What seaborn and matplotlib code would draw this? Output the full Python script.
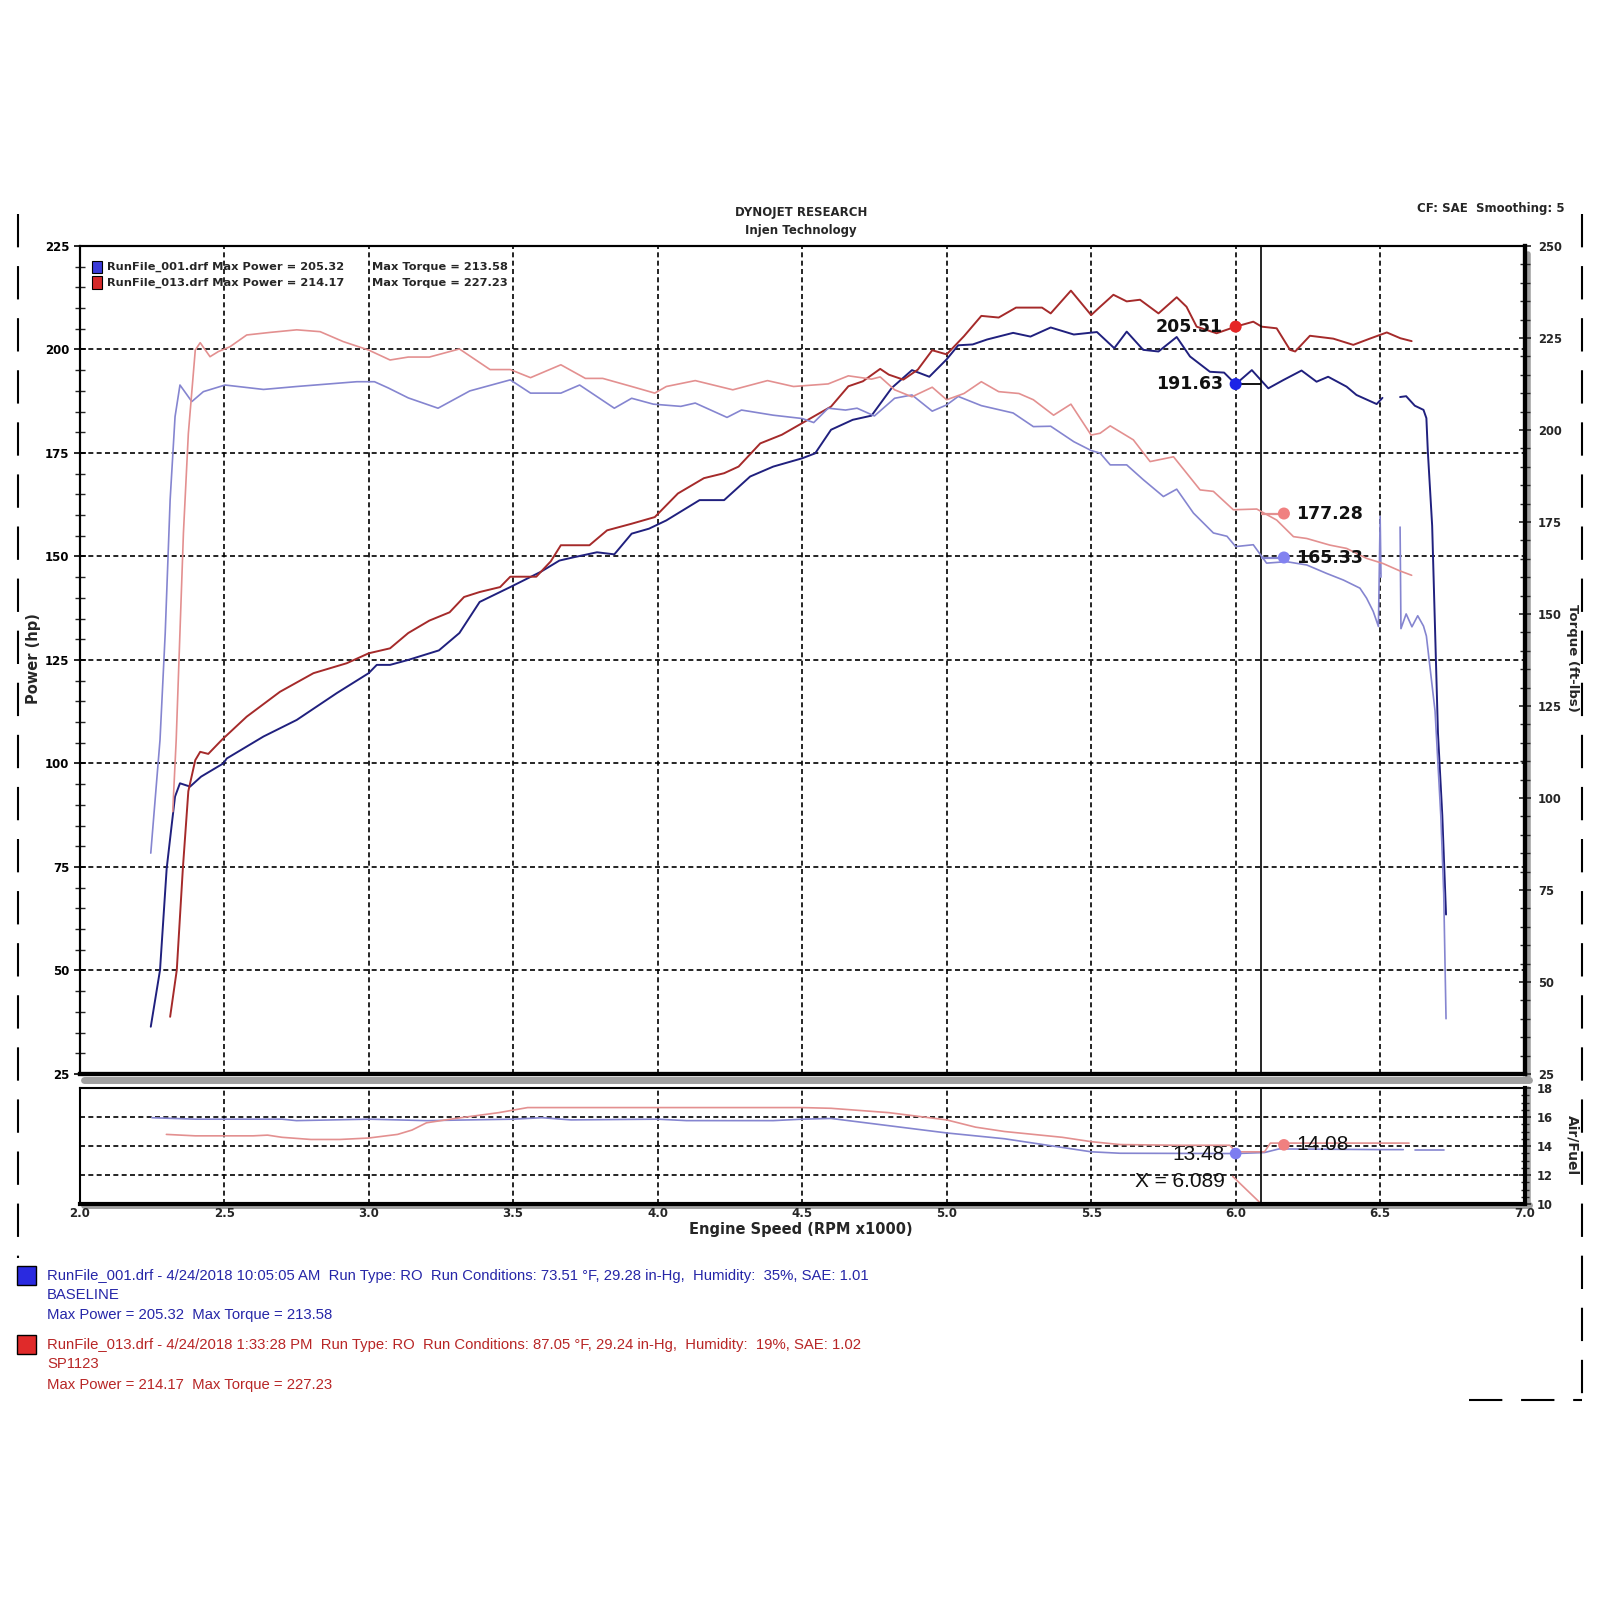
import numpy as np
import pandas as pd
import matplotlib
matplotlib.use("Agg")
import matplotlib.pyplot as plt
from matplotlib import font_manager
from matplotlib.patches import Rectangle
from matplotlib.lines import Line2D
from matplotlib.ticker import MultipleLocator, FormatStrFormatter
import seaborn as sns

nan = np.nan

# --- values (engine speed in RPM x1000) ---
# baseline run (RunFile_001): power, hp   (nan = break in the trace)
base_hp_rpm = [2.246, 2.278, 2.301, 2.319, 2.33, 2.347, 2.382, 2.42, 2.497, 2.509,
               2.636, 2.751, 2.89, 3.0, 3.028, 3.074, 3.137, 3.243, 3.314, 3.384,
               3.49, 3.596, 3.66, 3.71, 3.79, 3.85, 3.91, 3.97, 4.03, 4.145,
               4.23, 4.32, 4.40, 4.5, 4.545, 4.60, 4.675, 4.74, 4.81, 4.88,
               4.94, 5.0, 5.04, 5.09, 5.14, 5.23, 5.29, 5.36, 5.44, 5.52,
               5.58, 5.623, 5.68, 5.733, 5.796, 5.842, 5.911, 5.96, 6.0, 6.056,
               6.113, 6.165, 6.228, 6.28, 6.32, 6.384, 6.418, 6.488, 6.508, nan,
               6.569, 6.59, 6.62, 6.65, 6.66, 6.665, 6.68, 6.69, 6.70, 6.715, 6.728]
base_hp = [36.4, 50.1, 74.6, 85.5, 92.0, 95.2, 94.4, 96.8, 100.0, 101.2,
           106.5, 110.5, 117.0, 121.8, 123.8, 123.8, 125.0, 127.3, 131.5, 139.0,
           142.6, 146.3, 149.0, 149.8, 151.0, 150.5, 155.5, 156.7, 158.7, 163.6,
           163.6, 169.3, 171.7, 173.7, 174.9, 180.6, 183.0, 184.0, 190.7, 195.0,
           193.4, 197.6, 201.0, 201.2, 202.4, 204.0, 203.1, 205.3, 203.6, 204.2,
           200.3, 204.3, 199.9, 199.5, 203.0, 198.3, 194.6, 194.4, 191.6, 195.0,
           190.6, 192.6, 194.9, 192.2, 193.4, 191.0, 189.0, 186.8, 188.3, nan,
           188.5, 188.7, 186.4, 185.4, 183.4, 175.4, 157.4, 132.4, 107.4, 87.5, 63.5]

# baseline run: torque, ft-lbs
base_tq_rpm = [2.246, 2.278, 2.296, 2.313, 2.33, 2.347, 2.388, 2.428, 2.503, 2.636,
               2.751, 2.959, 3.02, 3.068, 3.137, 3.24, 3.35, 3.49, 3.56, 3.665,
               3.73, 3.85, 3.91, 3.985, 4.08, 4.13, 4.24, 4.29, 4.40, 4.5,
               4.54, 4.59, 4.65, 4.69, 4.75, 4.82, 4.88, 4.95, 5.0, 5.04,
               5.12, 5.23, 5.30, 5.36, 5.44, 5.5, 5.531, 5.566, 5.623, 5.68,
               5.75, 5.796, 5.854, 5.923, 5.97, 6.0, 6.061, 6.107, 6.176, 6.246,
               6.315, 6.373, 6.43, 6.453, 6.476, 6.494, 6.50, 6.503, nan,
               6.569, 6.572, 6.59, 6.61, 6.63, 6.65, 6.66, 6.69, 6.71, 6.72, 6.728]
base_tq = [85.0, 115.8, 144.8, 181.0, 203.6, 212.2, 207.7, 210.4, 212.2, 211.0,
           211.8, 213.1, 213.1, 211.4, 208.7, 205.9, 210.6, 213.6, 210.0, 210.0,
           212.2, 205.9, 208.6, 207.0, 206.4, 207.3, 203.4, 205.4, 204.0, 203.1,
           202.0, 205.9, 205.4, 205.9, 203.8, 208.6, 209.5, 205.1, 206.8, 209.1,
           206.6, 204.6, 200.9, 201.0, 196.8, 194.4, 193.7, 190.5, 190.5, 186.5,
           181.9, 183.9, 177.4, 172.0, 171.1, 168.3, 168.8, 163.8, 164.2, 163.3,
           161.0, 159.2, 157.0, 154.3, 150.7, 146.6, 176.5, 160.0, nan,
           173.6, 146.0, 150.0, 146.5, 149.5, 146.7, 144.0, 123.6, 95.0, 74.0, 40.0]

# SP1123 run (RunFile_013): power, hp
mod_hp_rpm = [2.313, 2.336, 2.357, 2.376, 2.40, 2.417, 2.445, 2.492, 2.578, 2.693,
              2.809, 2.924, 3.0, 3.074, 3.137, 3.21, 3.28, 3.33, 3.384, 3.455,
              3.49, 3.58, 3.63, 3.665, 3.764, 3.825, 3.91, 3.99, 4.07, 4.16,
              4.23, 4.28, 4.355, 4.43, 4.5, 4.60, 4.66, 4.71, 4.77, 4.80,
              4.85, 4.90, 4.95, 5.0, 5.06, 5.12, 5.18, 5.24, 5.33, 5.36,
              5.43, 5.5, 5.531, 5.577, 5.623, 5.669, 5.733, 5.796, 5.83, 5.865,
              5.934, 6.0, 6.061, 6.09, 6.142, 6.188, 6.206, 6.257, 6.338, 6.407,
              6.464, 6.523, 6.57, 6.609]
mod_hp = [38.8, 50.1, 74.6, 93.3, 100.8, 102.8, 102.3, 105.7, 111.3, 117.3,
          121.8, 124.2, 126.6, 127.8, 131.5, 134.5, 136.5, 140.2, 141.4, 142.6,
          145.1, 145.1, 148.8, 152.7, 152.7, 156.3, 157.9, 159.5, 165.2, 168.9,
          170.1, 171.7, 177.3, 179.4, 182.2, 186.2, 191.1, 192.3, 195.3, 193.9,
          192.7, 195.1, 199.8, 198.8, 203.2, 208.1, 207.7, 210.1, 210.1, 208.7,
          214.2, 208.3, 210.3, 213.2, 211.6, 212.0, 208.7, 212.6, 210.3, 205.5,
          203.9, 205.5, 206.7, 205.5, 205.1, 199.9, 199.5, 203.3, 202.6, 201.1,
          202.6, 204.1, 202.7, 202.0]

# SP1123 run: torque, ft-lbs
mod_tq_rpm = [2.322, 2.334, 2.359, 2.376, 2.40, 2.417, 2.451, 2.48, 2.52, 2.578,
              2.659, 2.751, 2.832, 2.912, 3.0, 3.074, 3.137, 3.21, 3.314, 3.42,
              3.49, 3.56, 3.665, 3.75, 3.81, 3.91, 3.99, 4.03, 4.13, 4.26,
              4.38, 4.47, 4.59, 4.66, 4.74, 4.77, 4.82, 4.88, 4.95, 5.0,
              5.06, 5.12, 5.18, 5.25, 5.30, 5.37, 5.43, 5.5, 5.531, 5.566,
              5.646, 5.704, 5.785, 5.877, 5.923, 5.992, 6.073, 6.142, 6.2, 6.246,
              6.326, 6.384, 6.453, 6.51, 6.568, 6.609]
mod_tq = [96.3, 115.8, 172.0, 199.0, 221.7, 223.7, 219.9, 221.3, 222.6, 225.8,
          226.5, 227.2, 226.7, 224.0, 221.7, 219.0, 219.8, 219.8, 222.0, 216.4,
          216.4, 214.2, 217.7, 214.0, 214.0, 211.8, 210.0, 211.8, 213.4, 210.9,
          213.4, 211.8, 212.5, 214.7, 213.8, 214.4, 210.9, 209.0, 211.6, 208.2,
          209.9, 213.1, 210.4, 209.9, 208.2, 204.0, 207.0, 198.6, 199.1, 201.1,
          197.3, 191.4, 192.7, 183.7, 183.3, 178.3, 178.5, 175.5, 171.0, 170.5,
          168.7, 167.8, 165.1, 163.7, 161.7, 160.5]

# air/fuel ratio
base_af_rpm = [2.25, 2.4, 2.7, 2.75, 3.0, 3.2, 3.5, 3.6, 3.7, 4.0, 4.1, 4.4, 4.5, 4.6,
               4.8, 5.0, 5.2, 5.4, 5.5, 5.6, 6.0, 6.1, 6.15, 6.5, 6.58, nan, 6.62, 6.72]
base_af = [15.95, 15.85, 15.85, 15.75, 15.85, 15.75, 15.85, 15.95, 15.8, 15.85, 15.75, 15.75, 15.85, 15.9,
           15.4, 14.9, 14.5, 13.9, 13.6, 13.5, 13.48, 13.55, 13.8, 13.75, 13.75, nan, 13.75, 13.75]
mod_af_rpm = [2.3, 2.4, 2.6, 2.65, 2.7, 2.8, 2.9, 3.0, 3.1, 3.15, 3.2, 3.3, 3.45, 3.55,
              4.5, 4.6, 4.8, 4.9, 5.0, 5.1, 5.2, 5.3, 5.4, 5.5, 5.6, 5.8, 5.98, 6.0,
              6.1, 6.12, 6.6]
mod_af = [14.8, 14.7, 14.7, 14.75, 14.6, 14.45, 14.45, 14.55, 14.8, 15.1, 15.6, 15.9, 16.3, 16.65,
          16.65, 16.6, 16.3, 16.05, 15.8, 15.3, 15.0, 14.8, 14.6, 14.3, 14.1, 14.05, 14.05, 13.6,
          13.6, 14.2, 14.2]

# cursor read-outs
cursor_rpm = 6.089
hp_read_rpm = 6.0
hp_read = [205.51, 191.63]          # SP1123, baseline
tq_read_rpm = 6.167
tq_read = [177.28, 165.33]          # SP1123, baseline
af_read = [(6.0, 13.48), (6.167, 14.08)]   # baseline, SP1123

run_legend = [("RunFile_001.drf Max Power = 205.32", "Max Torque = 213.58"),
              ("RunFile_013.drf Max Power = 214.17", "Max Torque = 227.23")]
run_notes = [
    ["RunFile_001.drf - 4/24/2018 10:05:05 AM  Run Type: RO  Run Conditions: 73.51 °F, 29.28 in-Hg,  Humidity:  35%, SAE: 1.01",
     "BASELINE", "Max Power = 205.32  Max Torque = 213.58"],
    ["RunFile_013.drf - 4/24/2018 1:33:28 PM  Run Type: RO  Run Conditions: 87.05 °F, 29.24 in-Hg,  Humidity:  19%, SAE: 1.02",
     "SP1123", "Max Power = 214.17  Max Torque = 227.23"],
]

sns.set_theme(style="white")
plt.rcParams["font.family"] = ["DejaVu Sans"]
plt.rcParams["font.weight"] = "bold"

NAVY = "#20207e"
LAV = "#8585d0"
DRED = "#a52a2a"
SALMON = "#e39090"
GRID = dict(color="black", linestyle=(0, (3, 2)), linewidth=1.2)

# narrow face for the run notes if there is one, else plain Liberation Sans a bit smaller
try:
    font_manager.findfont("Liberation Sans Narrow", fallback_to_default=False)
    NARROW, NOTE_SIZE = ["Liberation Sans Narrow", "DejaVu Sans"], 12
except ValueError:
    NARROW, NOTE_SIZE = ["Liberation Sans", "DejaVu Sans"], 10.7


def trace(rpm, vals):
    df = pd.DataFrame({"rpm": rpm, "val": vals})
    df["seg"] = df["val"].isna().cumsum()
    return df.dropna()


def draw(ax, rpm, vals, color, lw):
    sns.lineplot(data=trace(rpm, vals), x="rpm", y="val", units="seg", estimator=None,
                 sort=False, color=color, linewidth=lw, ax=ax, legend=False)


def shadow(ax):
    # grey drop shadow under bottom / right edges, like the dynojet frame
    ax.add_line(Line2D([0.003, 1.003], [-0.007, -0.007], transform=ax.transAxes,
                       color="#a0a0a0", lw=5, clip_on=False, zorder=0))
    ax.add_line(Line2D([1.0025, 1.0025], [-0.007, 0.99], transform=ax.transAxes,
                       color="#a0a0a0", lw=4, clip_on=False, zorder=0))


fig = plt.figure(figsize=(16, 16), dpi=100)
ax = fig.add_axes([0.0498, 0.3288, 0.9031, 0.5175])
ax_t = ax.twinx()
ax_af = fig.add_axes([0.0498, 0.2475, 0.9031, 0.0725])

# ---- power / torque ----
draw(ax, base_hp_rpm, base_hp, NAVY, 1.4)
draw(ax, mod_hp_rpm, mod_hp, DRED, 1.4)
draw(ax_t, base_tq_rpm, base_tq, LAV, 1.2)
draw(ax_t, mod_tq_rpm, mod_tq, SALMON, 1.2)

ax.set_xlim(2, 7)
ax.set_ylim(25, 225)
ax_t.set_ylim(25, 250)

ax.set_xticks(np.arange(2.0, 7.01, 0.5))
ax.tick_params(axis="x", which="both", bottom=False, top=False, labelbottom=False)
ax.set_yticks(np.arange(25, 226, 25))
ax.yaxis.set_minor_locator(MultipleLocator(5))
ax.tick_params(axis="y", which="major", direction="inout", length=9, width=1.2,
               labelsize=8.5, pad=3, colors="black")
ax.tick_params(axis="y", which="minor", direction="inout", length=7, width=1)
ax.set_axisbelow(True)
ax.grid(True, which="major", **GRID)

ax_t.set_yticks(np.arange(25, 251, 25))
ax_t.yaxis.set_minor_locator(MultipleLocator(5))
ax_t.tick_params(axis="y", which="major", direction="inout", length=9, width=1.2,
                 labelsize=8.3, pad=5)
ax_t.tick_params(axis="y", which="minor", direction="inout", length=7, width=1)
ax_t.grid(False)

for a in (ax, ax_t, ax_af):
    for s in a.spines.values():
        s.set_visible(True)
        s.set_color("black")
        s.set_linewidth(1.5)
    a.spines["bottom"].set_linewidth(3)
    a.spines["right"].set_linewidth(3)
shadow(ax)
shadow(ax_af)

ax.axvline(cursor_rpm, color="black", lw=1.2, zorder=3)

# cursor read-outs on the power / torque traces
ax.hlines(hp_read[1], hp_read_rpm, cursor_rpm, color="black", lw=1.3, zorder=4)
ax_t.hlines(tq_read[0], cursor_rpm, tq_read_rpm, color=SALMON, lw=1.6, zorder=4)
ax_t.hlines(tq_read[1], cursor_rpm, tq_read_rpm, color=LAV, lw=1.6, zorder=4)
sns.scatterplot(x=[hp_read_rpm] * 2, y=hp_read, hue=["a", "b"], palette=["#e62626", "#1c24e6"],
                s=75, edgecolor="none", legend=False, ax=ax, zorder=5)
sns.scatterplot(x=[tq_read_rpm] * 2, y=tq_read, hue=["a", "b"], palette=["#f08080", "#8282f0"],
                s=75, edgecolor="none", legend=False, ax=ax_t, zorder=5)
for v in hp_read:
    ax.annotate(f"{v:.2f}", (hp_read_rpm, v), xytext=(-9, 0), textcoords="offset points",
                ha="right", va="center", fontsize=12.5, fontweight="bold", color="#111111")
for v in tq_read:
    ax_t.annotate(f"{v:.2f}", (tq_read_rpm, v), xytext=(9, 0), textcoords="offset points",
                  ha="left", va="center", fontsize=12.5, fontweight="bold", color="#111111")
for a in (ax, ax_t):
    a.set_xlabel("")
    a.set_ylabel("")

# run legend, top-left inside the plot
for i, (left, right) in enumerate(run_legend):
    y = 0.9743 - i * 0.0186
    col = ["#3b3bd8", "#d42a2a"][i]
    ax.add_patch(Rectangle((0.0084, y - 0.0075), 0.0071, 0.0151, transform=ax.transAxes,
                           facecolor=col, edgecolor="black", lw=0.8, zorder=6))
    ax.text(0.0187, y, left, transform=ax.transAxes, ha="left", va="center",
            fontsize=8.2, fontweight="bold", zorder=6)
    ax.text(0.2026, y, right, transform=ax.transAxes, ha="left", va="center",
            fontsize=8.2, fontweight="bold", zorder=6)

# ---- air / fuel ----
draw(ax_af, base_af_rpm, base_af, LAV, 1.2)
draw(ax_af, mod_af_rpm, mod_af, SALMON, 1.2)
ax_af.set_xlim(2, 7)
ax_af.set_ylim(10, 18)
ax_af.set_xlabel("")
ax_af.set_ylabel("")
ax_af.set_xticks(np.arange(2.0, 7.01, 0.5))
ax_af.xaxis.set_minor_locator(MultipleLocator(0.1))
ax_af.xaxis.set_major_formatter(FormatStrFormatter("%.1f"))
ax_af.tick_params(axis="x", which="major", direction="inout", length=10, width=1.2,
                  labelsize=8.5, pad=-3)
ax_af.tick_params(axis="x", which="minor", direction="inout", length=8, width=1)
ax_af.yaxis.tick_right()
ax_af.set_yticks([10, 12, 14, 16, 18])
ax_af.yaxis.set_minor_locator(MultipleLocator(0.5))
ax_af.tick_params(axis="y", which="major", direction="inout", length=8, width=1.2,
                  labelsize=8.3, pad=5)
ax_af.tick_params(axis="y", which="minor", direction="inout", length=6, width=1)
ax_af.set_axisbelow(True)
ax_af.grid(True, which="major", **GRID)
ax_af.axvline(cursor_rpm, color="black", lw=1.2, zorder=3)
ax_af.plot([5.99, cursor_rpm], [11.9, 10.0], color=SALMON, lw=1.2)

sns.scatterplot(x=[p[0] for p in af_read], y=[p[1] for p in af_read], hue=["a", "b"],
                palette=["#7d7df0", "#f08080"], s=70, edgecolor="none", legend=False,
                ax=ax_af, zorder=5)
ax_af.annotate(f"{af_read[0][1]:.2f}", af_read[0], xytext=(-8, -1), textcoords="offset points",
               ha="right", va="center", fontsize=15, fontweight="normal", family=NARROW,
               color="#111111")
ax_af.annotate(f"{af_read[1][1]:.2f}", af_read[1], xytext=(9, 0), textcoords="offset points",
               ha="left", va="center", fontsize=15, fontweight="normal", family=NARROW,
               color="#111111")
ax_af.annotate(f"X = {cursor_rpm:.3f}", (6.0, 11.55), xytext=(-8, 0), textcoords="offset points",
               ha="right", va="center", fontsize=15, fontweight="normal", family=NARROW,
               color="#111111")

# ---- titles and axis captions ----
fig.text(0.5006, 0.8674, "DYNOJET RESEARCH", ha="center", va="center", fontsize=8.5)
fig.text(0.5006, 0.8559, "Injen Technology", ha="center", va="center", fontsize=8.5)
fig.text(0.9777, 0.8694, "CF: SAE  Smoothing: 5", ha="right", va="center", fontsize=8.5)
fig.text(0.021, 0.5887, "Power (hp)", ha="center", va="center", rotation=90, fontsize=10.5)
fig.text(0.9825, 0.5887, "Torque (ft-lbs)", ha="center", va="center", rotation=270, fontsize=9.5)
fig.text(0.9825, 0.2844, "Air/Fuel", ha="center", va="center", rotation=270, fontsize=10)
fig.text(0.5006, 0.2318, "Engine Speed (RPM x1000)", ha="center", va="center", fontsize=10.5)

# ---- run notes under the chart ----
note_colors = ["#2626a8", "#b82626"]
sq_colors = ["#2a2ae0", "#e02a2a"]
note_y = [[0.2028, 0.1906, 0.1780], [0.1594, 0.1473, 0.1346]]
for lines, col, sq, ys in zip(run_notes, note_colors, sq_colors, note_y):
    fig.add_artist(Rectangle((0.0108, ys[0] - 0.0057), 0.0115, 0.0117, transform=fig.transFigure,
                             facecolor=sq, edgecolor="black", lw=1))
    for txt, y in zip(lines, ys):
        fig.text(0.0294, y, txt, ha="left", va="center", fontsize=NOTE_SIZE, fontweight="normal",
                 family=NARROW, color=col)

# dashed page frame
frame = dict(color="black", lw=1.5, linestyle=(0, (16, 9)), transform=fig.transFigure)
fig.add_artist(Line2D([0.0115, 0.0115], [0.866, 0.214], **frame))
fig.add_artist(Line2D([0.9885, 0.9885], [0.866, 0.125], **frame))
fig.add_artist(Line2D([0.918, 0.9885], [0.125, 0.125], **frame))

fig.savefig("out.png", dpi=100, facecolor="white")
